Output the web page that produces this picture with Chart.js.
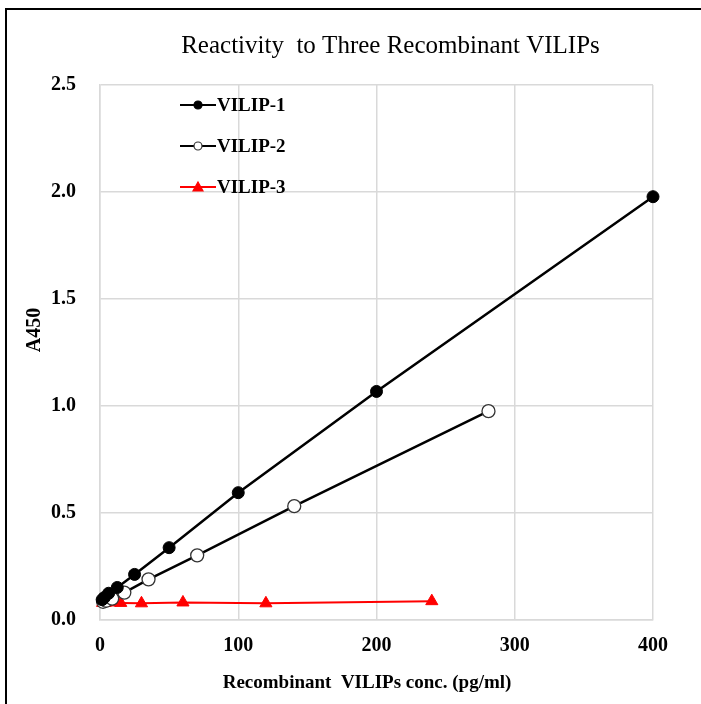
<!DOCTYPE html>
<html>
<head>
<meta charset="utf-8">
<script src="https://cdn.jsdelivr.net/npm/chart.js@4.4.1/dist/chart.umd.min.js"></script>
<style>
  html, body { margin: 0; padding: 0; background: #fff; }
  #wrap { position: relative; width: 701px; height: 704px; }
  #frame { position: absolute; left: 5px; top: 8px; right: -4px; bottom: -4px; border-left: 2px solid #000; border-top: 2px solid #000; }
  canvas { position: absolute; left: 0; top: 0; }
</style>
</head>
<body>
<div id="wrap">
  <div id="frame"></div>
  <canvas id="chart" width="701" height="704"></canvas>
</div>
<script>
const chartTitle = 'Reactivity  to Three Recombinant VILIPs';
const xTitle = 'Recombinant  VILIPs conc. (pg/ml)';
const yTitle = 'A450';

const vilip1Conc = [1.56, 3.13, 6.25, 12.5, 25, 50, 100, 200, 400];
const vilip1Abs = [0.095, 0.105, 0.125, 0.152, 0.213, 0.338, 0.595, 1.068, 1.978];

const vilip2Conc = [2.2, 4.4, 8.8, 17.6, 35.1, 70.3, 140.5, 281];
const vilip2Abs = [0.085, 0.09, 0.1, 0.128, 0.19, 0.302, 0.532, 0.976];

const vilip3Conc = [1.88, 3.75, 7.5, 15, 30, 60, 120, 240];
const vilip3Abs = [0.08, 0.08, 0.082, 0.08, 0.078, 0.082, 0.078, 0.088];

const serif = "'Liberation Serif', 'Times New Roman', serif";

const toPoints = (xs, ys) => xs.map((x, i) => ({ x, y: ys[i] }));

// title, axis titles and legend are placed by hand, like the original
const overlay = {
  id: 'overlay',
  afterDraw(chart) {
    const { ctx, chartArea } = chart;
    ctx.save();
    ctx.fillStyle = '#000';
    ctx.font = `25px ${serif}`;
    ctx.textAlign = 'center';
    ctx.textBaseline = 'middle';
    ctx.fillText(chartTitle, (chartArea.left + chartArea.right) / 2 + 14, 46);

    ctx.font = `bold 19px ${serif}`;
    ctx.fillText(xTitle, 367, 683);

    ctx.save();
    ctx.translate(35, 330);
    ctx.rotate(-Math.PI / 2);
    ctx.font = `bold 20px ${serif}`;
    ctx.fillText(yTitle, 0, 0);
    ctx.restore();

    ctx.font = `bold 19px ${serif}`;
    ctx.textAlign = 'left';
    chart.data.datasets.forEach((ds, i) => {
      const y = 105 + i * 41;
      ctx.strokeStyle = ds.borderColor;
      ctx.lineWidth = 2;
      ctx.beginPath();
      ctx.moveTo(180, y);
      ctx.lineTo(216, y);
      ctx.stroke();
      ctx.fillStyle = ds.pointBackgroundColor;
      ctx.strokeStyle = ds.pointBorderColor;
      ctx.lineWidth = 1.2;
      ctx.beginPath();
      if (ds.pointStyle === 'triangle') {
        ctx.moveTo(198, y - 5);
        ctx.lineTo(203, y + 4);
        ctx.lineTo(193, y + 4);
        ctx.closePath();
      } else {
        ctx.arc(198, y, 4, 0, Math.PI * 2);
      }
      ctx.fill();
      ctx.stroke();
      ctx.fillStyle = '#000';
      ctx.fillText(ds.label, 217, y + 1);
    });
    ctx.restore();
  }
};

new Chart(document.getElementById('chart'), {
  type: 'scatter',
  data: {
    datasets: [
      {
        label: 'VILIP-1',
        data: toPoints(vilip1Conc, vilip1Abs),
        showLine: true,
        clip: false,
        borderColor: '#000',
        borderWidth: 2.5,
        pointStyle: 'circle',
        pointRadius: 6,
        pointBackgroundColor: '#000',
        pointBorderColor: '#000',
        pointBorderWidth: 1
      },
      {
        label: 'VILIP-2',
        data: toPoints(vilip2Conc, vilip2Abs),
        showLine: true,
        clip: false,
        borderColor: '#000',
        borderWidth: 2.5,
        pointStyle: 'circle',
        pointRadius: 6.5,
        pointBackgroundColor: '#fff',
        pointBorderColor: '#333',
        pointBorderWidth: 1.3
      },
      {
        label: 'VILIP-3',
        data: toPoints(vilip3Conc, vilip3Abs),
        showLine: true,
        clip: false,
        borderColor: '#ff0000',
        borderWidth: 2,
        pointStyle: 'triangle',
        pointRadius: 7,
        pointBackgroundColor: '#ff0000',
        pointBorderColor: '#ff0000',
        pointBorderWidth: 1
      }
    ]
  },
  options: {
    responsive: false,
    animation: false,
    layout: { padding: { top: 85, right: 48, bottom: 0, left: 0 } },
    plugins: {
      legend: { display: false },
      title: { display: false },
      tooltip: { enabled: false }
    },
    scales: {
      x: {
        type: 'linear',
        min: 0,
        max: 400,
        afterFit: (scale) => { scale.height = 84; },
        grid: { color: '#d9d9d9', lineWidth: 1.5, drawTicks: false },
        border: { color: '#d9d9d9', width: 1.5 },
        ticks: {
          stepSize: 100,
          padding: 14,
          color: '#000',
          font: { family: serif, size: 20, weight: 'bold' }
        },
        title: { display: false }
      },
      y: {
        type: 'linear',
        min: 0,
        max: 2.5,
        afterFit: (scale) => { scale.width = 100; },
        grid: { color: '#d9d9d9', lineWidth: 1.5, drawTicks: false },
        border: { color: '#d9d9d9', width: 1.5 },
        ticks: {
          stepSize: 0.5,
          padding: 24,
          color: '#000',
          font: { family: serif, size: 20, weight: 'bold' },
          callback: (v) => v.toFixed(1)
        },
        title: { display: false }
      }
    }
  },
  plugins: [overlay]
});
</script>
</body>
</html>
